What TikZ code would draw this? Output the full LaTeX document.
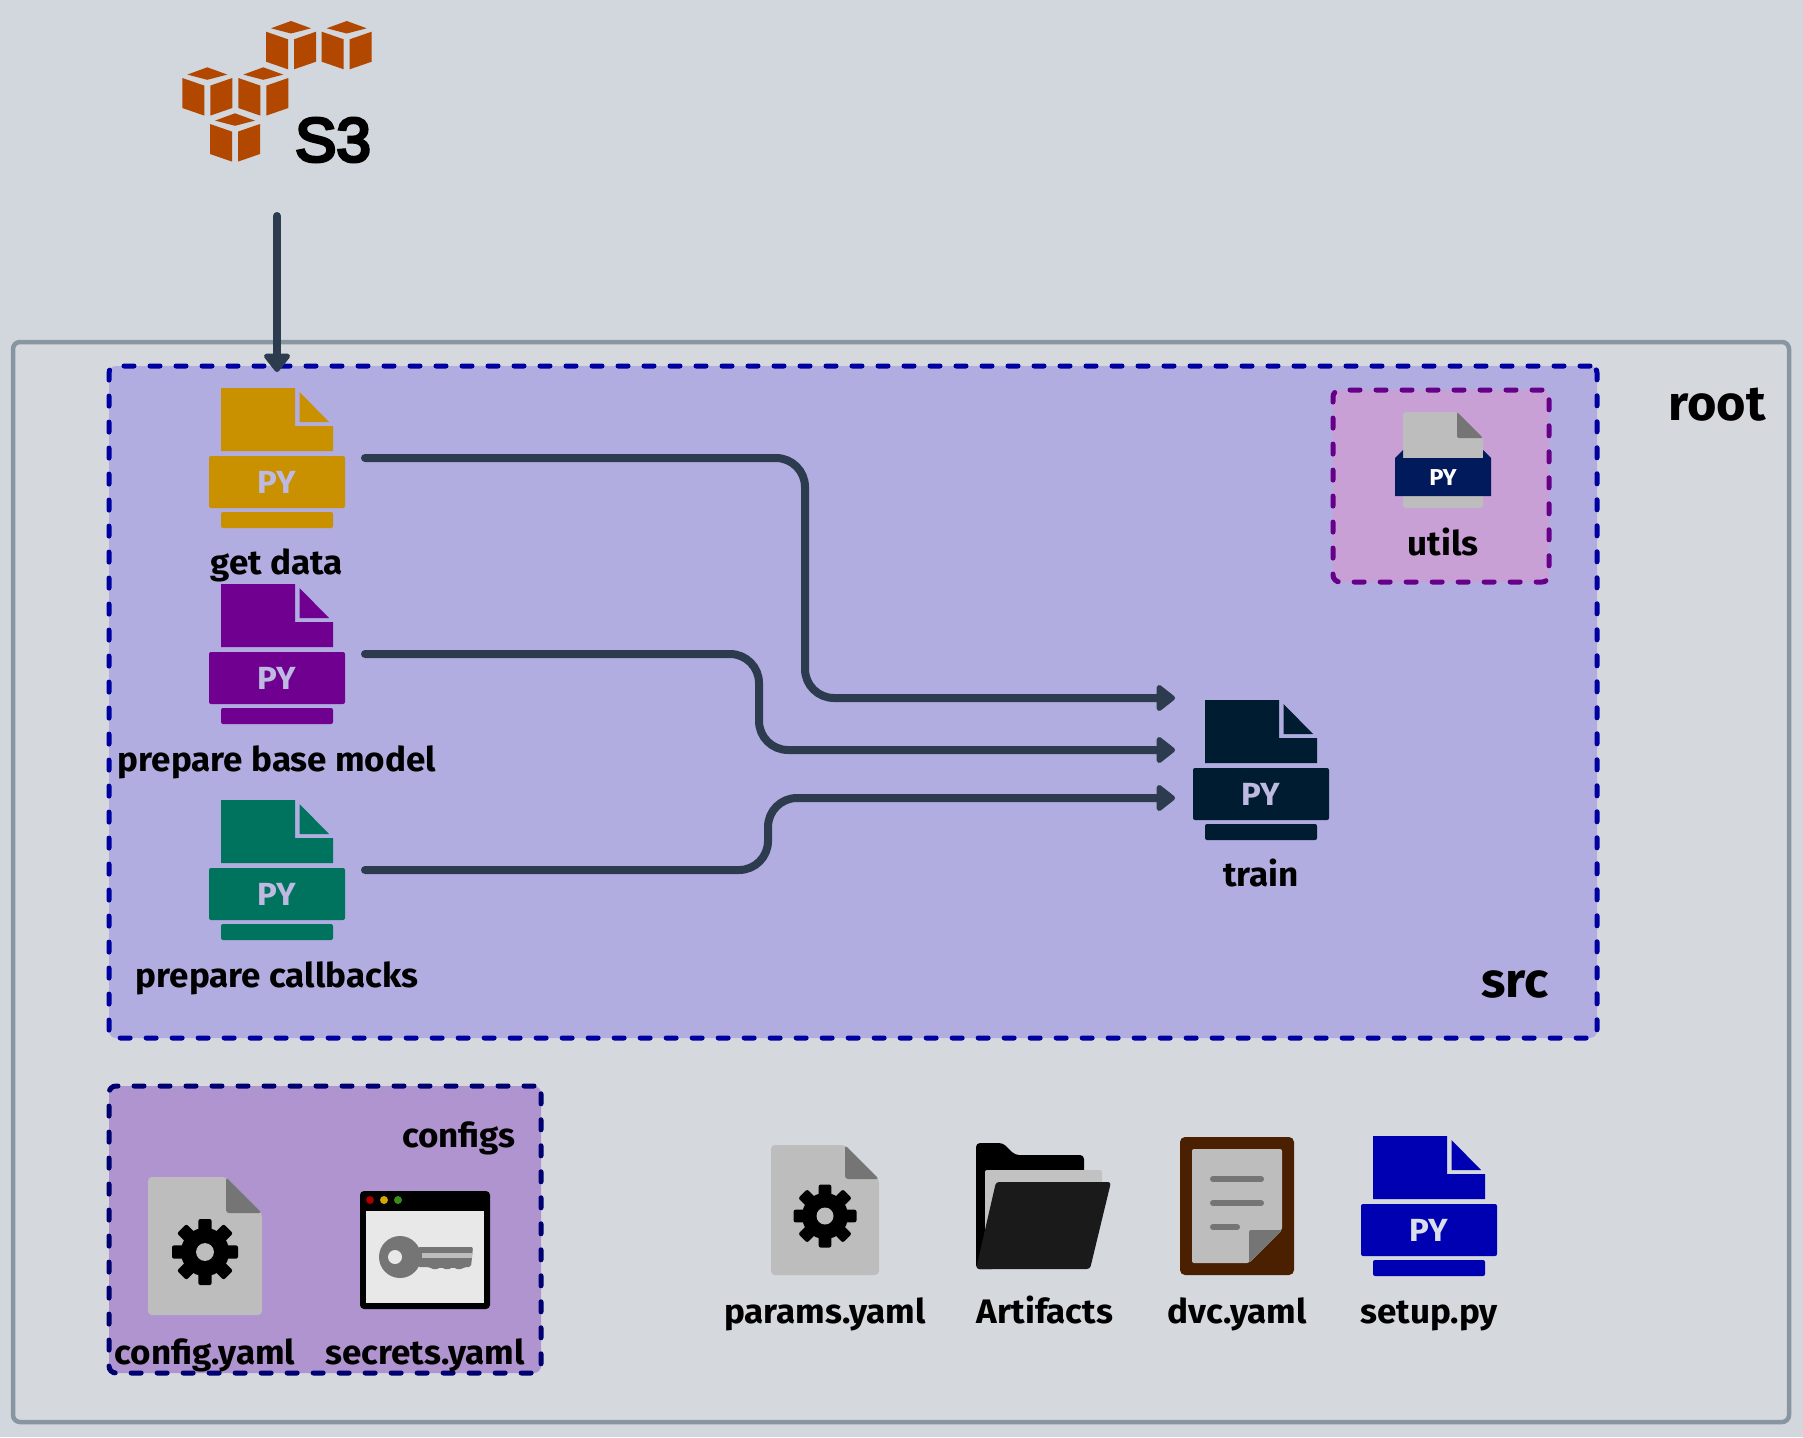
\documentclass[tikz,border=0pt]{standalone}
\usepackage{fontspec}
\setmainfont{Fira Sans}[FakeStretch=1.03]
\newfontfamily\sthree{Liberation Sans}[FakeBold=5]
\usetikzlibrary{arrows.meta,calc}
\definecolor{bgc}{HTML}{D2D7DE}
\definecolor{rootbg}{HTML}{D5D9DE}
\definecolor{rootline}{HTML}{8896A1}
\definecolor{srcfill}{HTML}{B1ADE0}
\definecolor{srcline}{HTML}{0000A0}
\definecolor{utilfill}{HTML}{C9A0D6}
\definecolor{utilline}{HTML}{660088}
\definecolor{conffill}{HTML}{B094CF}
\definecolor{confline}{HTML}{000070}
\definecolor{flowc}{HTML}{2C3B4E}
\definecolor{cubec}{HTML}{B24700}
\definecolor{grayfile}{HTML}{BDBDBD}
\definecolor{grayfold}{HTML}{757575}
\definecolor{pygold}{HTML}{C99000}
\definecolor{pypurple}{HTML}{6F0090}
\definecolor{pygreen}{HTML}{00735F}
\definecolor{pynavy}{HTML}{001C30}
\definecolor{pyblue}{HTML}{0000B3}
\definecolor{utilband}{HTML}{001A5C}
\definecolor{brownc}{HTML}{4A2000}
\definecolor{pylight}{HTML}{BDB9E0}
\definecolor{pylight2}{HTML}{DADDEA}
\definecolor{dotred}{HTML}{A80000}
\definecolor{dotyel}{HTML}{D4A500}
\definecolor{dotgrn}{HTML}{3D8B1C}
\definecolor{winfill}{HTML}{E8E8E8}
\definecolor{frontc}{HTML}{1A1A1A}
\definecolor{paperc}{HTML}{C2C2C2}
\tikzset{
  x=1pt,y=-1pt,
  folder/.style={line width=5pt,dash pattern=on 10pt off 16pt,line cap=round,rounded corners=7pt,inner sep=0pt},
  flow/.style={draw=flowc,line width=8pt,line cap=round,rounded corners=29pt,-{Triangle[length=20pt,width=30pt,round]}},
  iconbox/.style={minimum width=176pt,minimum height=172pt,inner sep=0pt,outer sep=0pt},
  lab/.style={font=\fontsize{34}{38}\selectfont\bfseries,text=black,inner sep=0pt,anchor=base},
  biglab/.style={font=\fontsize{49}{54}\selectfont\bfseries,text=black,inner sep=0pt,anchor=base},
  pytext/.style={font=\fontsize{32}{36}\selectfont\bfseries,inner sep=0pt},
}
\newcommand\pyicon[5]{% name, cx, top, colour, letters
  \begin{scope}[shift={(#2,#3)}]
    \node[iconbox] (#1) at (0,70) {};
    \fill[#4] (-56,0) -- (18,0) -- (18,38) -- (56,38) -- (56,63) -- (-56,63) -- cycle;
    \fill[#4] (22.5,4) -- (52,34) -- (22.5,34) -- cycle;
    \fill[#4,rounded corners=2pt] (-68,68) rectangle (68,120);
    \fill[#4,rounded corners=2pt] (-56,124) rectangle (56,140);
    \node[pytext,text=#5] (#1py) at (0,94) {PY};
  \end{scope}}
\newcommand\gearicon[3]{% cx, cy, r
  \fill[black] (#1,#2) circle ({#3*0.73});
  \foreach \a in {0,45,...,315}
    \fill[black,rounded corners=2pt,rotate around={\a:(#1,#2)}]
      ({#1-0.2*#3},{#2-#3}) rectangle ({#1+0.2*#3},{#2-0.6*#3});
  \fill[grayfile] (#1,#2) circle ({#3*0.27});}
\newcommand\yamlicon[6]{% x0,y0,x1,y1,foldx,foldy
  \fill[grayfile,rounded corners=4pt] (#1,#2) -- (#5,#2) -- (#3,#6) -- (#3,#4) -- (#1,#4) -- cycle;
  \fill[grayfold,rounded corners=3pt] (#5,#2) -- (#5,#6) -- (#3,#6) -- cycle;}
\newcommand\cubeicon[2]{% cx, top
  \begin{scope}[shift={(#1,#2)}]
    \fill[cubec] (0,0) -- (20,7.3) -- (0,12.5) -- (-20,7.3) -- cycle;
    \fill[cubec] (-25,10.7) -- (-3,18.3) -- (-3,48.3) -- (-25,40.7) -- cycle;
    \fill[cubec] (3,18.3) -- (25,10.7) -- (25,40.7) -- (3,48.3) -- cycle;
  \end{scope}}
\begin{document}
\begin{tikzpicture}
\useasboundingbox (0,0) rectangle (1803,1437);
\fill[bgc] (0,0) rectangle (1803,1437);
% root
\node[draw=rootline,line width=4.5pt,rounded corners=7pt,fill=rootbg,minimum width=1776pt,minimum height=1080pt,inner sep=0pt] (root) at (901,882) {};
% containers
\node[draw=srcline,folder,fill=srcfill,minimum width=1488pt,minimum height=672pt] (srcbox) at (853,702) {};
\node[draw=utilline,folder,fill=utilfill,minimum width=216pt,minimum height=192pt] (utilbox) at (1441,486) {};
\node[draw=confline,folder,fill=conffill,minimum width=432pt,minimum height=287pt] (confbox) at (325,1229.5) {};
% S3
\cubeicon{291}{21}
\cubeicon{346.7}{21}
\cubeicon{207.3}{67.3}
\cubeicon{263.3}{67.3}
\cubeicon{235}{113.3}
\node[font=\fontsize{62}{70}\selectfont\sthree,text=black,inner sep=0pt] (s3) at (333,140) {S3};
\coordinate (s3foot) at (277,216);
% py icons
\pyicon{getdata}{277}{388}{pygold}{pylight}
\pyicon{basemodel}{277}{584}{pypurple}{pylight}
\pyicon{callbacks}{277}{800}{pygreen}{pylight}
\pyicon{train}{1261}{700}{pynavy}{pylight}
\pyicon{setup}{1429}{1136}{pyblue}{pylight2}
% utils icon
\fill[grayfile,rounded corners=3pt] (1403,412) -- (1457,412) -- (1483,438) -- (1483,508) -- (1403,508) -- cycle;
\fill[grayfold,rounded corners=2pt] (1457,412) -- (1457,438) -- (1483,438) -- cycle;
\fill[utilband] (1403,450) -- (1403,458) -- (1483,458) -- (1483,450) -- (1491,458) -- (1491,496) -- (1395,496) -- (1395,458) -- cycle;
\node[font=\fontsize{23}{26}\selectfont\bfseries,text=white,inner sep=0pt] (utilspy) at (1443,478) {PY};
% connectors
\coordinate (in1) at ([yshift=72pt,xshift=2pt]train.west);
\coordinate (in2) at ([yshift=20pt,xshift=2pt]train.west);
\coordinate (in3) at ([yshift=-28pt,xshift=2pt]train.west);
\coordinate (via1) at (805,600);
\coordinate (via2) at (759,700);
\coordinate (via3) at (768,840);
\draw[flow] (s3foot) -- (getdata.north);
\draw[flow] (getdata.east) -- (getdata.east -| via1) -- (in1 -| via1) -- (in1);
\draw[flow] (basemodel.east) -- (basemodel.east -| via2) -- (in2 -| via2) -- (in2);
\draw[flow] (callbacks.east) -- (callbacks.east -| via3) -- (in3 -| via3) -- (in3);
% labels
\node[lab] (l1) at (277,574) {get data};
\node[lab] (l2) at (277,771) {prepare base model};
\node[lab] (l3) at (277,987) {prepare callbacks};
\node[lab] (l4) at (1261,886) {train};
\node[lab] (l5) at (1443,555) {utils};
\node[biglab] (l6) at (1717,420) {root};
\node[biglab] (l7) at (1515,997) {src};
\node[lab] (l8) at (459,1147) {configs};
\node[lab] (l9) at (205,1364) {config.yaml};
\node[lab] (l10) at (425,1364) {secrets.yaml};
\node[lab] (l11) at (825,1323) {params.yaml};
\node[lab] (l12) at (1045,1323) {Artifacts};
\node[lab] (l13) at (1237,1323) {dvc.yaml};
\node[lab] (l14) at (1429,1323) {setup.py};
% config files
\yamlicon{148}{1177}{262}{1315}{226}{1213}
\gearicon{205}{1252}{33}
\yamlicon{771}{1145}{879}{1275}{845}{1179}
\gearicon{825}{1216}{31.5}
% secrets window
\fill[black,rounded corners=4pt] (360,1191) rectangle (490,1309);
\fill[winfill] (366,1211) rectangle (484,1303);
\fill[dotred] (370,1200) circle (4);
\fill[dotyel] (384,1200) circle (4);
\fill[dotgrn] (398,1200) circle (4);
\fill[grayfold] (400,1257) circle (21);
\fill[grayfold,rounded corners=2pt] (418,1247) -- (473,1247) -- (471,1267) -- (465,1267) -- (459,1270) -- (453,1267) -- (447,1270) -- (441,1267) -- (435,1270) -- (429,1267) -- (418,1267) -- cycle;
\fill[grayfile] (422,1253) rectangle (472,1258);
\fill[winfill] (395,1257) circle (7);
% artifacts folder
\fill[black,rounded corners=4pt] (976,1269) -- (976,1143) -- (1003,1143) -- (1015,1155) -- (1084,1155) -- (1084,1200) -- (996,1269) -- cycle;
\fill[paperc,rounded corners=2pt] (985,1240) -- (985,1170) -- (1102,1170) -- (1102,1200) -- (1000,1240) -- cycle;
\fill[frontc,rounded corners=3pt] (996,1182) -- (1111,1182) -- (1090,1269) -- (976,1269) -- cycle;
% dvc icon
\fill[brownc,rounded corners=5pt] (1180,1137) rectangle (1294,1275);
\fill[grayfile,rounded corners=2pt] (1192,1149) -- (1282,1149) -- (1282,1230) -- (1249,1263) -- (1192,1263) -- cycle;
\fill[grayfold,rounded corners=2pt] (1249,1263) -- (1249,1230) -- (1282,1230) -- cycle;
\draw[grayfold,line width=6pt,line cap=round] (1213,1179) -- (1261,1179) (1213,1203) -- (1261,1203) (1213,1227) -- (1237,1227);
\end{tikzpicture}
\end{document}
